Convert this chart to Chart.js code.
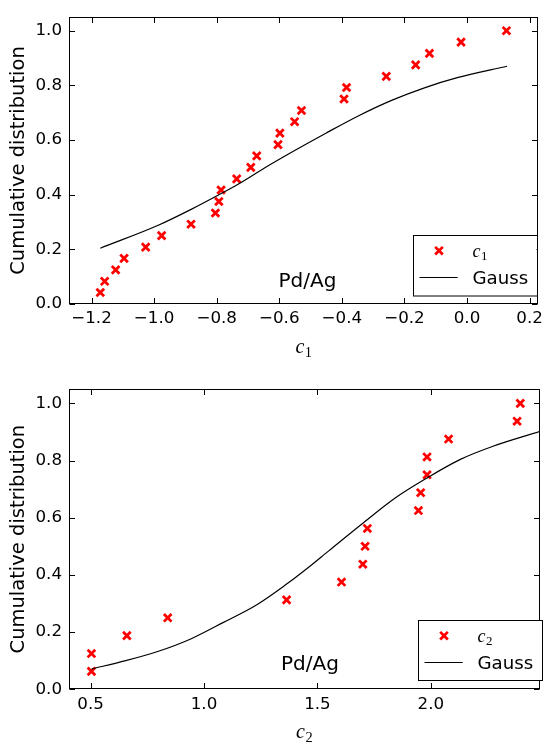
<!DOCTYPE html>
<html>
<head>
<meta charset="utf-8">
<script src="https://cdn.jsdelivr.net/npm/chart.js@4"></script>
<style>
  body { margin: 0; background: #fff; }
  canvas { display: block; }
</style>
</head>
<body>
<canvas id="chartC1" width="548" height="372"></canvas>
<canvas id="chartC2" width="548" height="372"></canvas>
<script>
// c1 sample (sorted) with its empirical cumulative distribution
const c1Values = [-1.172, -1.158, -1.123, -1.096, -1.027, -0.976, -0.882, -0.804, -0.793, -0.786, -0.736, -0.691,
  -0.672, -0.604, -0.598, -0.551, -0.529, -0.393, -0.385, -0.258, -0.164, -0.120, -0.019, 0.126];
const c1Cdf = [0.042, 0.083, 0.125, 0.167, 0.208, 0.25, 0.292, 0.333, 0.375, 0.417, 0.458, 0.5,
  0.542, 0.583, 0.625, 0.667, 0.708, 0.75, 0.792, 0.833, 0.875, 0.917, 0.958, 1.0];
// gauss fit curve
const gauss1X = [-1.172, -0.985, -0.880, -0.797, -0.733, -0.638, -0.555, -0.451, -0.346, -0.241, -0.136, -0.031, 0.128];
const gauss1Y = [0.204, 0.289, 0.347, 0.397, 0.437, 0.504, 0.559, 0.625, 0.689, 0.745, 0.791, 0.828, 0.870];

const c2Values = [0.504, 0.504, 0.660, 0.840, 1.364, 1.606, 1.700, 1.710, 1.720, 1.945, 1.955, 1.983, 1.983, 2.078, 2.380, 2.394];
const c2Cdf = [0.0625, 0.125, 0.1875, 0.25, 0.3125, 0.375, 0.4375, 0.5, 0.5625, 0.625, 0.6875, 0.75, 0.8125, 0.875, 0.9375, 1.0];
const gauss2X = [0.504, 0.655, 0.799, 0.944, 1.088, 1.233, 1.364, 1.450, 1.551, 1.696, 1.841, 1.985, 2.130, 2.274, 2.482];
const gauss2Y = [0.071, 0.100, 0.133, 0.177, 0.235, 0.296, 0.368, 0.420, 0.485, 0.578, 0.668, 0.740, 0.804, 0.850, 0.902];

const yTicks = [0, 0.2, 0.4, 0.6, 0.8, 1.0];
const x1Ticks = [-1.2, -1.0, -0.8, -0.6, -0.4, -0.2, 0.0, 0.2];
const x2Ticks = [0.5, 1.0, 1.5, 2.0];

const tickFont = { family: 'DejaVu Sans', size: 16.7 };
const mathFont = '"Liberation Serif", "DejaVu Serif", serif';

function fmt(v) {
  const s = Math.abs(v).toFixed(1);
  return v < -1e-9 ? '\u2212' + s : s;
}

function drawMath(ctx, base, sub, x, y, size) {
  ctx.font = `italic ${size}px ${mathFont}`;
  ctx.fillText(base, x, y);
  const w = ctx.measureText(base).width;
  ctx.font = `${size * 0.72}px ${mathFont}`;
  ctx.fillText(sub, x + w + 0.5, y + size * 0.2);
}

function mathWidth(ctx, base, sub, size) {
  ctx.font = `italic ${size}px ${mathFont}`;
  const w = ctx.measureText(base).width;
  ctx.font = `${size * 0.72}px ${mathFont}`;
  return w + 0.5 + ctx.measureText(sub).width;
}

function drawCross(ctx, x, y, r) {
  const d = r * Math.SQRT1_2;
  ctx.beginPath();
  ctx.moveTo(x - d, y - d); ctx.lineTo(x + d, y + d);
  ctx.moveTo(x - d, y + d); ctx.lineTo(x + d, y - d);
  ctx.stroke();
}

// frame, inward ticks, axis titles, legend and annotation
const decor = {
  id: 'decor',
  afterDatasetsDraw(chart, args, o) {
    const { ctx, chartArea: a, scales: { x, y } } = chart;
    ctx.save();
    ctx.strokeStyle = '#000';
    ctx.lineWidth = 1;
    const L = Math.round(a.left) + 0.5, R = Math.round(a.right) - 0.5;
    const T = Math.round(a.top) + 0.5, B = Math.round(a.bottom) - 0.5;
    ctx.strokeRect(L, T, R - L, B - T);
    const tl = 5.5;
    ctx.beginPath();
    x.ticks.forEach(t => {
      const px = Math.round(x.getPixelForValue(t.value)) + 0.5;
      ctx.moveTo(px, B); ctx.lineTo(px, B - tl);
      ctx.moveTo(px, T); ctx.lineTo(px, T + tl);
    });
    y.ticks.forEach(t => {
      const py = Math.round(y.getPixelForValue(t.value)) + 0.5;
      ctx.moveTo(L, py); ctx.lineTo(L + tl, py);
      ctx.moveTo(R, py); ctx.lineTo(R - tl, py);
    });
    ctx.stroke();

    ctx.fillStyle = '#000';
    // y title
    ctx.save();
    ctx.translate(24, (a.top + a.bottom) / 2);
    ctx.rotate(-Math.PI / 2);
    ctx.font = '19.5px "DejaVu Sans"';
    ctx.textAlign = 'center';
    ctx.textBaseline = 'alphabetic';
    ctx.fillText('Cumulative distribution', 0, 0);
    ctx.restore();

    // x title
    ctx.textAlign = 'left';
    ctx.textBaseline = 'alphabetic';
    const tw = mathWidth(ctx, 'c', o.sub, 20);
    drawMath(ctx, 'c', o.sub, (a.left + a.right) / 2 - tw / 2, a.bottom + 49, 20);

    // annotation
    ctx.font = '20px "DejaVu Sans"';
    ctx.fillText('Pd/Ag', o.note[0], a.bottom - o.note[1]);

    // legend
    const [bx, by, bw, bh] = o.box;
    ctx.fillStyle = '#fff';
    ctx.fillRect(bx, by, bw, bh);
    ctx.strokeRect(Math.round(bx) + 0.5, Math.round(by) + 0.5, bw, bh);
    ctx.strokeStyle = '#ff0000';
    ctx.lineWidth = 2.8;
    drawCross(ctx, bx + 26.5, by + 15.7, 5.4);
    ctx.strokeStyle = '#000';
    ctx.lineWidth = 1.2;
    ctx.beginPath();
    ctx.moveTo(bx + 7, by + 42.5); ctx.lineTo(bx + 45.2, by + 42.5);
    ctx.stroke();
    ctx.fillStyle = '#000';
    drawMath(ctx, 'c', o.sub, bx + 60, by + 21.5, 18);
    ctx.font = '18.2px "DejaVu Sans"';
    ctx.fillText('Gauss', bx + 60, by + 48.5);
    ctx.restore();
  }
};

function makeChart(id, xs, cdf, gx, gy, xTicks, xMin, xMax, pad, axisH, deco) {
  return new Chart(document.getElementById(id), {
    type: 'scatter',
    data: {
      datasets: [{
        label: 'Gauss',
        data: gx.map((v, i) => ({ x: v, y: gy[i] })),
        showLine: true,
        borderColor: '#000',
        borderWidth: 1.2,
        pointRadius: 0,
        cubicInterpolationMode: 'monotone'
      }, {
        label: 'c',
        data: xs.map((v, i) => ({ x: v, y: cdf[i] })),
        pointStyle: 'crossRot',
        pointRadius: 5.4,
        pointBorderWidth: 2.8,
        borderColor: '#ff0000',
        backgroundColor: '#ff0000'
      }]
    },
    options: {
      responsive: false,
      animation: false,
      devicePixelRatio: 1,
      layout: { padding: pad },
      plugins: { legend: { display: false }, tooltip: { enabled: false }, decor: deco },
      scales: {
        x: {
          type: 'linear', min: xMin, max: xMax,
          grid: { display: false, drawTicks: false },
          border: { display: false },
          ticks: { font: tickFont, color: '#000', padding: 5, maxRotation: 0, autoSkip: false, callback: fmt },
          afterBuildTicks: s => { s.ticks = xTicks.map(v => ({ value: v })); },
          afterFit: s => { s.height = axisH; }
        },
        y: {
          min: 0, max: 1.05,
          grid: { display: false, drawTicks: false },
          border: { display: false },
          ticks: { font: tickFont, color: '#000', padding: 7, callback: fmt },
          afterBuildTicks: s => { s.ticks = yTicks.map(v => ({ value: v })); },
          afterFit: s => { s.width = 69; }
        }
      }
    },
    plugins: [decor]
  });
}

makeChart('chartC1', c1Values, c1Cdf, gauss1X, gauss1Y, x1Ticks, -1.272, 0.228,
  { top: 3, right: 2, left: 0, bottom: 0 }, 68,
  { sub: '1', note: [278.5, 17.5], box: [412.5, 235, 124, 60.5] });

makeChart('chartC2', c2Values, c2Cdf, gauss2X, gauss2Y, x2Ticks, 0.405, 2.48,
  { top: 15.3, right: 1, left: 0, bottom: 0 }, 54.7,
  { sub: '2', note: [281, 19.5], box: [417.5, 248, 124, 60] });
</script>
</body>
</html>
